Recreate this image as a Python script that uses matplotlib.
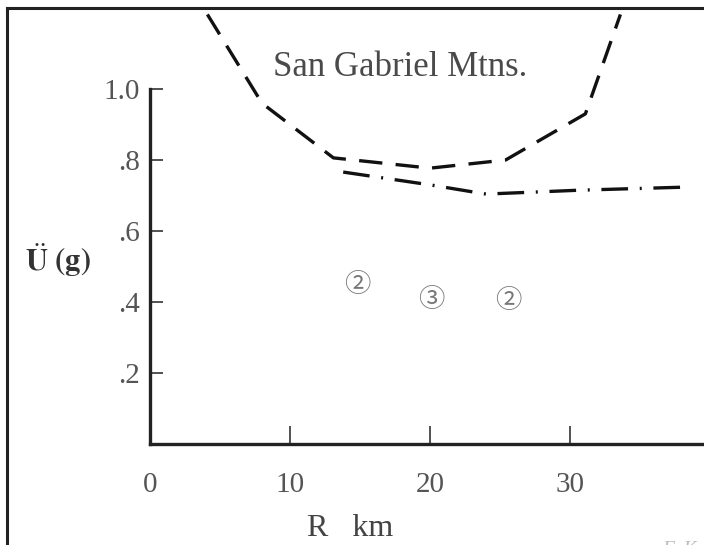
import matplotlib
matplotlib.use("Agg")
import matplotlib.pyplot as plt
from matplotlib.lines import Line2D

plt.rcParams['font.family'] = ['Liberation Serif', 'DejaVu Serif']
plt.rcParams['mathtext.fontset'] = 'stix'

# upper bound (San Gabriel Mtns.), dashed
r_dash = [4.1, 8.0, 13.1, 20.0, 25.4, 31.1, 33.6]
u_dash = [1.21, 0.96, 0.806, 0.777, 0.80, 0.93, 1.21]

# dash-dot curve
r_dd = [13.8, 20.0, 24.0, 30.7, 38.6]
u_dd = [0.766, 0.73, 0.704, 0.715, 0.724]

# circled counts
r_pts = [14.8, 20.1, 25.6]
u_pts = [0.45, 0.408, 0.403]
pt_labels = ['②', '③', '②']

xticks = [0, 10, 20, 30]
xtick_labels = ['0', '10', '20', '30']
yticks = [0.2, 0.4, 0.6, 0.8, 1.0]
ytick_labels = ['.2', '.4', '.6', '.8', '1.0']

fig = plt.figure(figsize=(7.04, 5.45), dpi=100)
ax = fig.add_axes([150 / 704, 1 - 444 / 545, 1 - 150 / 704, (444 - 8) / 545])
ax.set_xlim(0, (704 - 150) / 14)
ax.set_ylim(0, (444 - 8) / 355)

ax.plot(r_dash, u_dash, color='#111', lw=2.4, dashes=(7, 4), solid_capstyle='butt')
ax.plot(r_dd, u_dd, color='#111', lw=2.4, dashes=(8, 3.5, 0.6, 3.5))

for r, u, s in zip(r_pts, u_pts, pt_labels):
    ax.text(r, u, s, ha='center', va='center', fontsize=19, color='#777',
            family=['Noto Sans CJK JP', 'DejaVu Sans'])

ax.text(17.86, 1.06, 'San Gabriel Mtns.', ha='center', va='center',
        fontsize=25, color='#4a4a4a')

for s in ['top', 'right']:
    ax.spines[s].set_visible(False)
ax.spines['left'].set_bounds(0, 1.0)
ax.spines['left'].set_linewidth(2.4)
ax.spines['bottom'].set_linewidth(2.4)
ax.spines['left'].set_color('#222')
ax.spines['bottom'].set_color('#222')

ax.set_xticks(xticks)
ax.set_xticklabels(xtick_labels)
ax.set_yticks(yticks)
ax.set_yticklabels(ytick_labels)
ax.tick_params(axis='x', direction='in', length=13, width=1.2, pad=20,
               labelsize=21, labelcolor='#555', color='#333')
ax.tick_params(axis='y', direction='in', length=9, width=1.2, pad=7,
               labelsize=21, labelcolor='#555', color='#333')

ax.set_xlabel('R   km', fontsize=23, color='#444')
ax.xaxis.set_label_coords((350 - 150) / 554, -(528 - 444) / 436)
ax.xaxis.label.set_va('center')
fig.text(58 / 704, 1 - 260 / 545, r'$\ddot{\mathbf{U}}$ $\mathbf{(g)}$',
         ha='center', va='center', fontsize=22, color='#333')

# frame of the scanned figure
fig.add_artist(Line2D([7 / 704, 1.0], [1 - 8 / 545, 1 - 8 / 545],
                      transform=fig.transFigure, color='#222', lw=2.2))
fig.add_artist(Line2D([7 / 704, 7 / 704], [0, 1 - 8 / 545],
                      transform=fig.transFigure, color='#222', lw=2.2))
fig.text(662 / 704, -4 / 545, 'FaK', fontsize=14, color='#bbb',
         style='italic', va='center')

fig.savefig('out.png', dpi=100)
